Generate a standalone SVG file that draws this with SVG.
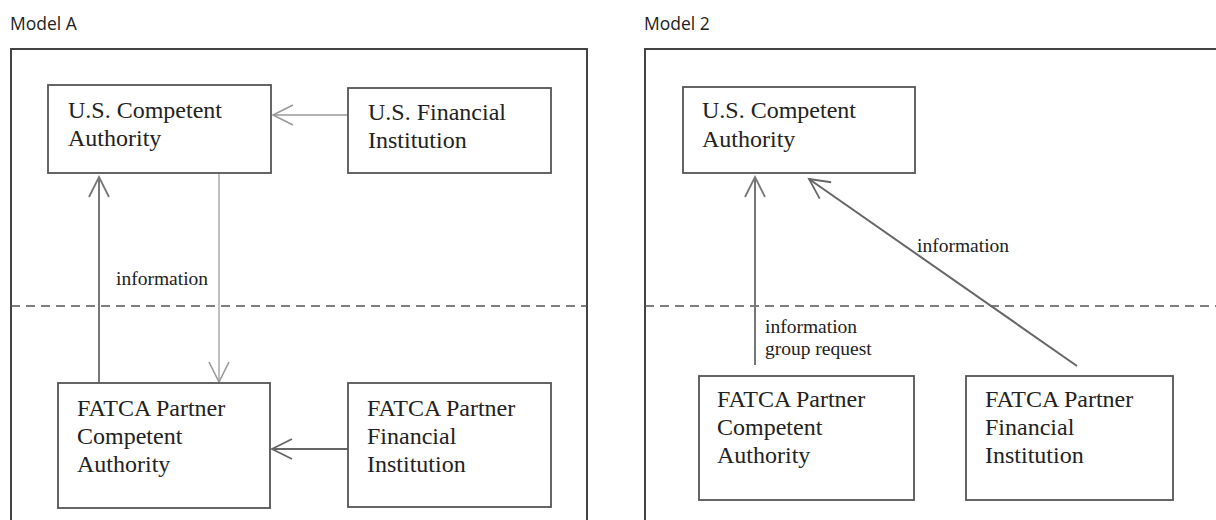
<svg xmlns="http://www.w3.org/2000/svg" width="1216" height="520" viewBox="0 0 1216 520">
<style>
.title{font-family:"Open Sans","Noto Sans","DejaVu Sans",sans-serif;font-size:17.5px;fill:#222}
.node rect{fill:#fff;stroke:#555;stroke-width:1.8}
.node text{font-family:"Liberation Serif","Times New Roman",serif;font-size:24px;fill:#222}
.lbl{font-family:"Liberation Serif","Times New Roman",serif;font-size:19.5px;fill:#222}
.frame{fill:none;stroke:#444;stroke-width:2}
.dash{fill:none;stroke:#555;stroke-width:1.5;stroke-dasharray:9 6}
.conn{fill:none}
</style>
<defs>
<marker id="ah-light" markerUnits="userSpaceOnUse" markerWidth="26" markerHeight="26" refX="22" refY="12" orient="auto"><path d="M2,2 L22,12 L2,22" fill="none" stroke="#999" stroke-width="1.6"/></marker>
<marker id="ah-mid" markerUnits="userSpaceOnUse" markerWidth="26" markerHeight="26" refX="22" refY="12" orient="auto"><path d="M2,2 L22,12 L2,22" fill="none" stroke="#777" stroke-width="1.8"/></marker>
<marker id="ah-dark" markerUnits="userSpaceOnUse" markerWidth="26" markerHeight="26" refX="22" refY="12" orient="auto"><path d="M2,2 L22,12 L2,22" fill="none" stroke="#666" stroke-width="1.8"/></marker>
</defs>
<rect width="1216" height="520" fill="#fff"/>
<text class="title" x="10" y="30">Model A</text>
<text class="title" x="644" y="30">Model 2</text>
<path class="frame" d="M11,540 V49 H587 V540"/>
<path class="frame" d="M645,540 V49 H1230"/>
<line class="dash" x1="11" y1="306" x2="587" y2="306"/>
<line class="dash" x1="645" y1="306" x2="1216" y2="306"/>
<g id="connectors">
<line class="conn" x1="348" y1="115" x2="273" y2="115" stroke="#999" stroke-width="1.5" marker-end="url(#ah-light)"/>
<line class="conn" x1="99" y1="383" x2="99" y2="177" stroke="#777" stroke-width="2" marker-end="url(#ah-mid)"/>
<line class="conn" x1="219" y1="174" x2="219" y2="382" stroke="#aaa" stroke-width="1.5" marker-end="url(#ah-light)"/>
<line class="conn" x1="348" y1="449" x2="272" y2="449" stroke="#666" stroke-width="2" marker-end="url(#ah-dark)"/>
<line class="conn" x1="755" y1="365" x2="755" y2="177" stroke="#777" stroke-width="2" marker-end="url(#ah-mid)"/>
<line class="conn" x1="1077" y1="366" x2="809" y2="179" stroke="#666" stroke-width="2" marker-end="url(#ah-dark)"/>
<text class="lbl" x="116" y="285">information</text>
<text class="lbl" x="917" y="252">information</text>
<text class="lbl" x="765" y="333">information</text>
<text class="lbl" x="765" y="355">group request</text>
</g>
<g id="a-us-ca" class="node"><rect x="48" y="85" width="223" height="88"/><text x="68" y="118">U.S. Competent</text><text x="68" y="146">Authority</text></g>
<g id="a-us-fi" class="node"><rect x="348" y="88" width="203" height="85"/><text x="368" y="120">U.S. Financial</text><text x="368" y="148">Institution</text></g>
<g id="a-fp-ca" class="node"><rect x="58" y="383" width="212" height="125"/><text x="77" y="416">FATCA Partner</text><text x="77" y="444">Competent</text><text x="77" y="472">Authority</text></g>
<g id="a-fp-fi" class="node"><rect x="348" y="383" width="203" height="124"/><text x="367" y="416">FATCA Partner</text><text x="367" y="444">Financial</text><text x="367" y="472">Institution</text></g>
<g id="b-us-ca" class="node"><rect x="683" y="87" width="232" height="86"/><text x="702" y="118">U.S. Competent</text><text x="702" y="147">Authority</text></g>
<g id="b-fp-ca" class="node"><rect x="699" y="376" width="215" height="124"/><text x="717" y="407">FATCA Partner</text><text x="717" y="435">Competent</text><text x="717" y="463">Authority</text></g>
<g id="b-fp-fi" class="node"><rect x="966" y="376" width="207" height="124"/><text x="985" y="407">FATCA Partner</text><text x="985" y="435">Financial</text><text x="985" y="463">Institution</text></g>
</svg>
